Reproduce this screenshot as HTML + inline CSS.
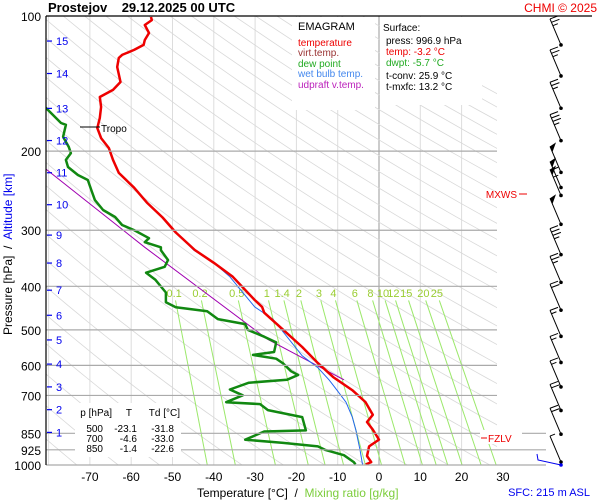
<!DOCTYPE html>
<html><head><meta charset="utf-8"><style>
body{margin:0;background:#fff}
svg{display:block;font-family:"Liberation Sans",sans-serif}
</style></head><body>
<svg id="c" width="600" height="500" viewBox="0 0 600 500" xmlns="http://www.w3.org/2000/svg">
<defs><clipPath id="pa"><rect x="46" y="16" width="451" height="449"/></clipPath></defs>
<rect width="600" height="500" fill="#fff"/>
<g id="grid" clip-path="url(#pa)"></g>
<g id="mix"></g>
<g id="series" clip-path="url(#pa)"></g>
<g id="axes"></g>
<g id="wind"></g>
</svg>
<script>
const pTemp=[100.5,102.1,104.7,109.1,113.1,116,119,122.1,124,129.9,140.3,146.1,151.5,159.4,168.7,177.6,187,196.9,209.2,223.6,241.2,260.4,281.1,303.5,332,354.6,381,429,444.5,458,500,546,593,637,681,724,773,802,834,878,909,955,985,996.9];
const tTemp=[-55.2,-55,-56.7,-55.7,-56.7,-57,-59.3,-62.2,-63,-63.4,-62.6,-64.4,-67.6,-67.3,-67.6,-68.2,-67.3,-65.4,-64.4,-63,-59.3,-56.2,-52.4,-49.2,-44.6,-40,-35.4,-30.1,-28.3,-27.8,-23.2,-18.6,-14.8,-11.1,-6.5,-3.3,-1.5,-2.9,-1.5,0,-2.4,-2.9,-1.9,-3.2];
const pDew=[159.4,173.1,174.7,185.8,195.8,202,209.2,216.9,226,231.9,246.6,257,270.4,280.3,292.1,299.8,312.5,319,327.4,332.5,349.4,361.9,373,386.4,400.4,412.8,434.2,445.3,454.4,473.2,485.4,500,517.8,533.3,560.2,568.5,579.8,594.2,618,630.2,646,655.6,678.8,699.4,724.5,731.9,754.7,782.4,837.3,842.3,878.5,892.7,909,925,951,985,996.9];
const tDew=[-80.9,-77,-75.8,-76.5,-75.1,-74.6,-75.8,-75.3,-72.9,-70.5,-69.5,-68.8,-66.8,-63.9,-62.2,-59.3,-55.7,-56.7,-52.8,-52.8,-51.1,-51.9,-56.4,-54.2,-52.8,-51.6,-51.6,-49.2,-41.6,-39,-32.4,-31.8,-27.8,-24.9,-25.4,-30.5,-24.9,-23.2,-21.3,-19.6,-22.3,-31.5,-36.1,-33,-37,-28.8,-26.9,-18.6,-17.7,-27.8,-32.4,-23.2,-14.8,-13.1,-8.5,-6.1,-5.7];
const pWet=[100.5,102.1,104.7,109.1,113.1,116,119,122.1,124,129.9,140.3,146.1,151.5,159.4,168.7,177.6,187,196.9,209.2,223.6,241.2,260.4,281.1,303.5,332.5,354.6,381,444.5,473.2,571.3,607,646,681,724.5,781,837,925,985,996.9];
const tWet=[-55.2,-55,-56.7,-55.7,-56.7,-57,-59.3,-62.2,-63,-63.4,-62.6,-64.4,-67.6,-67.3,-67.6,-68.2,-67.3,-65.4,-64.4,-63,-59.3,-56.2,-52.4,-49.2,-44.8,-40,-36.1,-30.1,-25.7,-18.6,-14.8,-12.1,-10.2,-8,-6.5,-5.6,-4.6,-4.1,-4];
const pUp=[218.4,327.4,525.5,646];
const tUp=[-80.9,-56.7,-26.9,-8.5];
const pLabels=[100,200,300,400,500,600,700,850,925,1000];
const tLabels=[-70,-60,-50,-40,-30,-20,-10,0,10,20,30];
const altKm=[15,14,13,12,11,10,9,8,7,6,5,4,3,2,1];
const altP=[113.7,134.3,160.6,189.4,223.4,263.2,307.6,355,408,464,526.6,596,670,753,846];
const mixR=[0.1,0.2,0.5,1,1.4,2,3,4,6,8,10,12,15,20,25];
const windP=[116,136,160.5,189.5,223,241,251,291,340,392,452,517,591,670,756,854,985];
const windKt=[25,25,25,35,50,55,55,50,35,25,20,15,15,15,20,20,5];

const NS="http://www.w3.org/2000/svg";
function el(par,tag,at){const e=document.createElementNS(NS,tag);for(const k in at)e.setAttribute(k,at[k]);document.getElementById(par).appendChild(e);return e;}
const X0=46,X1=497,Y0=16,Y1=465;
function xT(t){return 379+t*4.13;}
function yP(p){return Y0+Math.log10(p/100)*449;}
function path(ps,ts){return ps.map((p,i)=>(i?'L':'M')+xT(ts[i]).toFixed(1)+','+yP(p).toFixed(1)).join('');}

for(let t=-80;t<=30;t+=10){
  const g=el('grid','line',{x1:xT(t),x2:xT(t),y1:Y0,y2:Y1,stroke:t===0?'#999':'#ddd','stroke-width':1});
  
  
}
for(let th=200;th<=520;th+=10){
  let d='';
  for(let p=100;p<=1000;p+=20){const T=th*Math.pow(p/1000,0.286)-273.15;d+=(d?'L':'M')+xT(T).toFixed(1)+','+yP(p).toFixed(1);}
  const a=el('grid','path',{d:d,fill:'none',stroke:'#d8d8d8','stroke-width':0.8});
  
  
}
pLabels.forEach(p=>{
  if(p===100)return;
  const x2=(p===850||p===925||p===1000)?546:X1;
  const l=el('axes','line',{x1:X0,x2:x2,y1:yP(p),y2:yP(p),stroke:'#aaa','stroke-width':1.2});
  
  
});
function tdOf(w,p){const e=w*p/(622+w);const L=Math.log(e/6.112);return 243.5*L/(17.67-L);}
mixR.forEach(w=>{
  const ln=el('mix','line',{x1:xT(tdOf(w,1000)),y1:yP(1000),x2:xT(tdOf(w,430)),y2:yP(430),stroke:'#9be86a','stroke-width':1});
  
  
  const tx=el('mix','text',{x:xT(tdOf(w,414)),y:yP(414)+4,'font-size':11,fill:'#9acd32','text-anchor':'middle'});
  tx.textContent=String(w);
  
  
});
const sUp=el('series','path',{d:path(pUp,tUp),fill:'none',stroke:'#a000b0','stroke-width':1});


const sDew=el('series','path',{d:path(pDew,tDew),fill:'none',stroke:'#118811','stroke-width':2.5,'stroke-linejoin':'round'});


const sW=el('series','path',{d:path(pWet,tWet),fill:'none',stroke:'#2266ee','stroke-width':1});


const sT=el('series','path',{d:path(pTemp,tTemp),fill:'none',stroke:'#ee0000','stroke-width':2.5,'stroke-linejoin':'round'});



el('axes','line',{x1:X0,x2:X0,y1:Y0,y2:Y1,stroke:'#000','stroke-width':1.2});
el('axes','line',{x1:X0,x2:592,y1:Y0,y2:Y0,stroke:'#000','stroke-width':1.2});
pLabels.forEach(p=>{
  const t=el('axes','text',{x:41,y:yP(p)+5,'font-size':12,'text-anchor':'end',fill:'#000'});
  t.textContent=p;
  
  
});
tLabels.forEach(v=>{
  const t=el('axes','text',{x:xT(v),y:481,'font-size':12,'text-anchor':'middle',fill:'#000'});
  t.textContent=v;
  
  
});
altKm.forEach((k,i)=>{
  const y=yP(altP[i]);
  el('axes','line',{x1:47,x2:52,y1:y,y2:y,stroke:'#0000ee','stroke-width':1.2});
  const t=el('axes','text',{x:56,y:y+4,'font-size':11,fill:'#0000ee'});
  t.textContent=k;
  
  
});
windP.forEach((p,i)=>{
  const y=yP(p),x=561;
  const tx=550,ty=y-26;
  el('wind','line',{x1:x,y1:y,x2:tx,y2:ty,stroke:'#000','stroke-width':1});
  el('wind','circle',{cx:x,cy:y,r:1.8,fill:'#000'});
  let kt=windKt[i],pos=0;
  const ux=(x-tx)/27,uy=(y-ty)/27;
  if(kt>=50){el('wind','polygon',{points:`${tx},${ty} ${tx+6},${ty-4} ${tx+ux*6},${ty+uy*6}`,fill:'#000'});kt-=50;pos=8;}
  while(kt>=10){const bx=tx+ux*pos,by=ty+uy*pos;el('wind','line',{x1:bx,y1:by,x2:bx+8,y2:by-3,stroke:'#000','stroke-width':1});kt-=10;pos+=3.5;}
  if(kt>=5){const bx=tx+ux*pos,by=ty+uy*pos;el('wind','line',{x1:bx,y1:by,x2:bx+5,y2:by-2,stroke:'#000','stroke-width':1});}
});
</script>
<svg width="600" height="500" style="position:absolute;left:0;top:0" xmlns="http://www.w3.org/2000/svg" font-family="Liberation Sans, sans-serif">
<text x="48" y="12" font-size="13" font-weight="bold" xml:space="preserve" style="white-space:pre">Prostejov    29.12.2025 00 UTC</text>
<text x="597" y="12" font-size="12" fill="#ee0000" text-anchor="end">CHMI © 2025</text>
<rect x="292" y="17" width="83" height="93" fill="#fff"/>
<text x="298" y="30" font-size="11">EMAGRAM</text>
<text x="298" y="46" font-size="10" fill="#ee0000">temperature</text>
<text x="298" y="56" font-size="10" fill="#993333">virt.temp.</text>
<text x="298" y="67" font-size="10" fill="#22aa22">dew point</text>
<text x="298" y="77" font-size="10" fill="#4488ee">wet bulb temp.</text>
<text x="298" y="88" font-size="10" fill="#bb22bb">udpraft v.temp.</text>
<rect x="380" y="17" width="102" height="88" fill="#fff"/>
<text x="383" y="31" font-size="10">Surface:</text>
<text x="386" y="44" font-size="10">press: 996.9 hPa</text>
<text x="386" y="55" font-size="10" fill="#ee0000">temp: -3.2 °C</text>
<text x="386" y="66" font-size="10" fill="#22aa22">dwpt: -5.7 °C</text>
<text x="386" y="79" font-size="10">t-conv: 25.9 °C</text>
<text x="386" y="90" font-size="10">t-mxfc: 13.2 °C</text>
<line x1="80" y1="127" x2="100" y2="127" stroke="#000"/>
<text x="101" y="132" font-size="10">Tropo</text>
<text x="517" y="198" font-size="10" fill="#ee0000" text-anchor="end">MXWS</text>
<line x1="519" y1="194" x2="527" y2="194" stroke="#ee0000"/>
<rect x="480" y="430" width="42" height="14" fill="#fff"/>
<line x1="481" y1="438" x2="487" y2="438" stroke="#ee0000"/>
<text x="488" y="442" font-size="10" fill="#ee0000">FZLV</text>
<polyline points="537,454 538,460 561,465" fill="none" stroke="#0000ee"/>
<circle cx="561" cy="465" r="1.8" fill="#0000ee"/>
<rect x="75" y="403" width="106" height="54" fill="#fff"/>
<g font-size="10" text-anchor="end">
<text x="112" y="416">p [hPa]</text><text x="132" y="416">T</text><text x="180" y="416">Td [°C]</text>
<text x="103" y="432">500</text><text x="137" y="432">-23.1</text><text x="174" y="432">-31.8</text>
<text x="103" y="442">700</text><text x="137" y="442">-4.6</text><text x="174" y="442">-33.0</text>
<text x="103" y="452">850</text><text x="137" y="452">-1.4</text><text x="174" y="452">-22.6</text>
</g>
<text x="197" y="497" font-size="12" xml:space="preserve" style="white-space:pre">Temperature [°C]  /  <tspan fill="#7ccd3c">Mixing ratio [g/kg]</tspan></text>
<text x="590" y="496" font-size="11" fill="#0000ee" text-anchor="end">SFC: 215 m ASL</text>
<text transform="translate(12,335) rotate(-90)" font-size="12" xml:space="preserve" style="white-space:pre">Pressure [hPa]  /  <tspan fill="#0000ee">Altitude [km]</tspan></text>
</svg>
</body></html>
